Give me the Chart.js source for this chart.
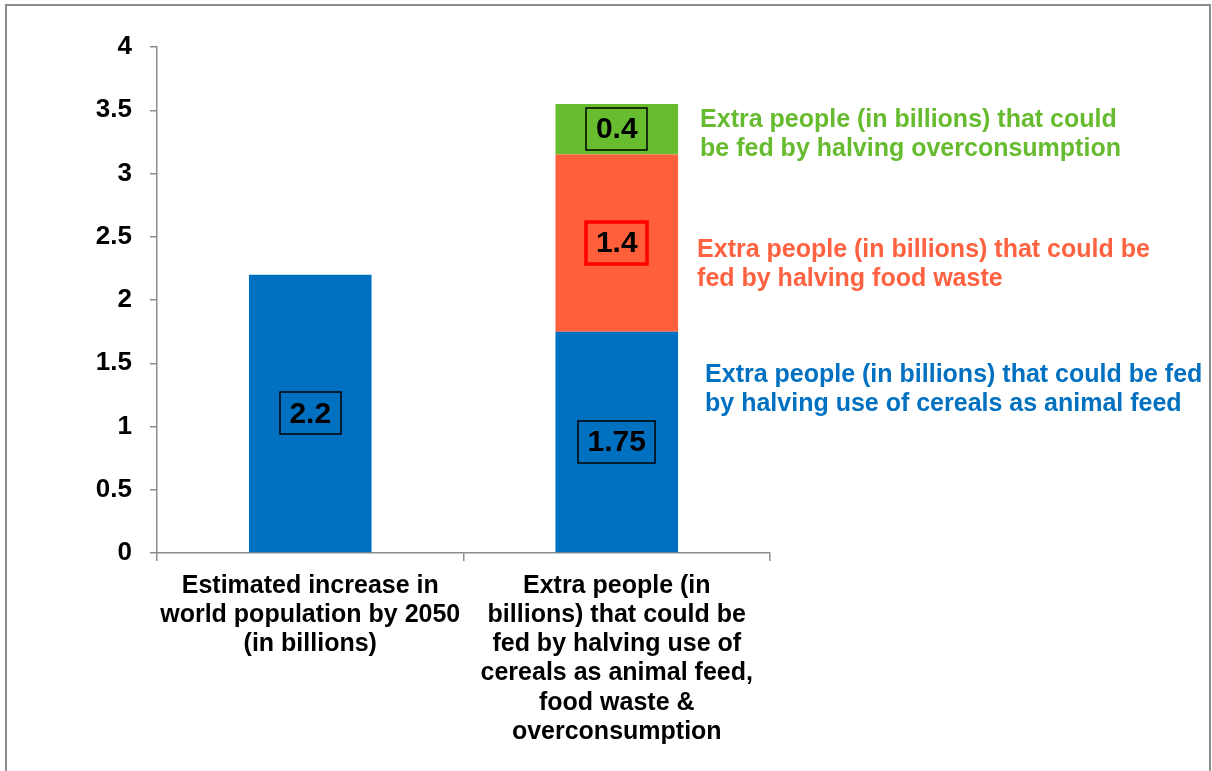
<!DOCTYPE html>
<html>
<head>
<meta charset="utf-8">
<script src="https://cdn.jsdelivr.net/npm/chart.js@4.4.0/dist/chart.umd.min.js"></script>
<style>
  body { margin: 0; background: #fff; }
  #frame { position: absolute; left: 5px; top: 4px; width: 1202px; height: 820px; border: 2px solid #8c8c8c; }
  #wrap { position: absolute; left: 0; top: 0; width: 1212px; height: 771px; }
</style>
</head>
<body>
<div id="frame"></div>
<div id="wrap"><canvas id="chart" width="1212" height="771"></canvas></div>
<script>
// categories (multi-line labels)
var categories = [
  ["Estimated increase in", "world population by 2050", "(in billions)"],
  ["Extra people (in", "billions) that could be", "fed by halving use of", "cereals as animal feed,", "food waste &", "overconsumption"]
];

// series values (billions)
var animalFeed = [2.2, 1.75];
var foodWaste = [null, 1.4];
var overconsumption = [null, 0.4];

// y axis ticks
var yTicks = [0, 0.5, 1, 1.5, 2, 2.5, 3, 3.5, 4];

// side notes for the stacked bar, anchored at a value on the y scale
var noteLines = [
  ["Extra people (in billions) that could be fed", "by halving use of cereals as animal feed"],
  ["Extra people (in billions) that could be", "fed by halving food waste"],
  ["Extra people (in billions) that could", "be fed by halving overconsumption"]
];
var noteAnchor = [1.29, 2.28, 3.31];
var noteShift = [27, 19, 22];
var noteColors = ["#0070C0", "#FF6240", "#66BB2E"];

var FONT = "Liberation Sans, Arial, sans-serif";

// boxed value labels inside the segments
var boxLabels = {
  id: 'boxLabels',
  afterDatasetsDraw: function (chart) {
    var ctx = chart.ctx;
    ctx.save();
    ctx.font = "bold 30px " + FONT;
    ctx.textAlign = "center";
    ctx.textBaseline = "middle";
    chart.data.datasets.forEach(function (ds, di) {
      var meta = chart.getDatasetMeta(di);
      meta.data.forEach(function (bar, i) {
        var v = ds.data[i];
        if (v == null) return;
        var txt = String(v);
        var cy = (bar.y + bar.base) / 2;
        var w = ctx.measureText(txt).width + 19;
        var h = 42;
        ctx.fillStyle = "#000";
        ctx.fillText(txt, bar.x, cy + 1);
        ctx.strokeStyle = ds.boxColor;
        ctx.lineWidth = ds.boxWidth;
        ctx.strokeRect(Math.round(bar.x - w / 2), Math.round(cy - h / 2), Math.round(w), h);
      });
    });
    ctx.restore();
  }
};

var sideNotes = {
  id: 'sideNotes',
  afterDraw: function (chart) {
    var ctx = chart.ctx;
    var y = chart.scales.y;
    var bar = chart.getDatasetMeta(0).data[1];
    var right = bar.x + bar.width / 2;
    ctx.save();
    ctx.font = "bold 25px " + FONT;
    ctx.textAlign = "left";
    ctx.textBaseline = "middle";
    noteLines.forEach(function (lines, k) {
      var mid = y.getPixelForValue(noteAnchor[k]);
      ctx.fillStyle = noteColors[k];
      lines.forEach(function (line, j) {
        ctx.fillText(line, right + noteShift[k], mid + (j - (lines.length - 1) / 2) * 29);
      });
    });
    ctx.restore();
  }
};

new Chart(document.getElementById('chart'), {
  type: 'bar',
  data: {
    labels: categories,
    datasets: [
      { label: "Animal feed", data: animalFeed, backgroundColor: "#0070C0", boxColor: "#000", boxWidth: 1.5 },
      { label: "Food waste", data: foodWaste, backgroundColor: "#FF5F3B", boxColor: "#FF0000", boxWidth: 3.5 },
      { label: "Overconsumption", data: overconsumption, backgroundColor: "#67BD2D", boxColor: "#000", boxWidth: 1.5 }
    ]
  },
  options: {
    responsive: false,
    animation: false,
    events: [],
    barPercentage: 0.4,
    categoryPercentage: 1.0,
    layout: { padding: { top: 47, right: 442, left: 0, bottom: 0 } },
    plugins: { legend: { display: false }, tooltip: { enabled: false } },
    scales: {
      x: {
        stacked: true,
        border: { color: "#8c8c8c", width: 1.5 },
        grid: { drawOnChartArea: false, color: "#8c8c8c", tickLength: 8, lineWidth: 1.5 },
        ticks: {
          color: "#000",
          padding: 10,
          maxRotation: 0,
          autoSkip: false,
          font: { family: FONT, size: 25, weight: "bold", lineHeight: 1.17 }
        },
        afterFit: function (s) { s.height = 771 - 553; }
      },
      y: {
        stacked: true,
        min: 0,
        max: 4,
        afterBuildTicks: function (s) { s.ticks = yTicks.map(function (v) { return { value: v }; }); },
        border: { color: "#8c8c8c", width: 1.5 },
        grid: { drawOnChartArea: false, color: "#8c8c8c", tickLength: 7, lineWidth: 1.5 },
        ticks: {
          color: "#000",
          padding: 18,
          font: { family: FONT, size: 26, weight: "bold" },
          callback: function (v) { return String(v); }
        },
        afterFit: function (s) { s.width = 157; }
      }
    }
  },
  plugins: [boxLabels, sideNotes]
});
</script>
</body>
</html>
